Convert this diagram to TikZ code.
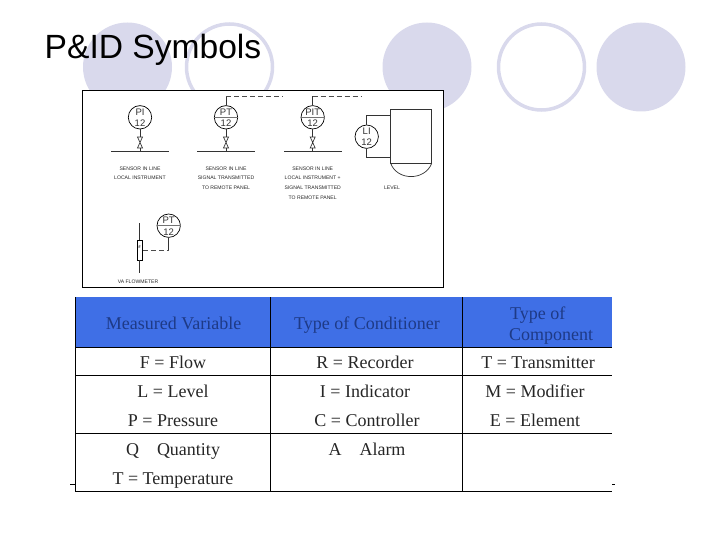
\documentclass[tikz,border=0pt]{standalone}
\usepackage{fontspec}
\setmainfont{Liberation Serif}
\setsansfont{Liberation Sans}
\usetikzlibrary{calc,positioning}
\definecolor{slidelilac}{HTML}{D9D9EC}
\definecolor{headblue}{HTML}{3F6FE6}
\definecolor{headink}{HTML}{1E3A86}
\tikzset{
  instr/.style={draw,circle,minimum size=23.4pt,inner sep=0pt,fill=white,line width=0.7pt},
  tagtext/.style={font=\sffamily\fontsize{9.5}{9.5}\selectfont,text=black!80,inner sep=0pt},
  caption/.style={font=\sffamily\fontsize{5.1}{5.1}\selectfont,text=black!85,inner sep=0pt},
  cell/.style={font=\fontsize{18}{18}\selectfont,text=black!85,inner sep=0pt,text height=14pt,text depth=2pt},
  headcell/.style={font=\fontsize{18}{18}\selectfont,text=headink,inner sep=0pt,text height=14pt,text depth=2pt},
  pipe/.style={line width=0.7pt,black!80},
  signal/.style={line width=0.7pt,black!70,dash pattern=on 5pt off 3pt}
}
\begin{document}
\begin{tikzpicture}[x=1pt,y=-1pt]
  \useasboundingbox (0,0) rectangle (720,540);
  % Slide circles
  \foreach \cx in {127.5,427,641}
    \fill[slidelilac] (\cx,67) circle (44.5);
  \foreach \cx in {229.5,541.5}
    \draw[slidelilac,line width=3.5pt] (\cx,67) circle (43);
  \node[font=\sffamily\fontsize{33.6}{33.6}\selectfont,anchor=base west,inner sep=0pt] (title) at (44.5,59) {P\&ID Symbols};
  % Symbol sheet
  \draw[fill=white,line width=0.9pt] (82.5,90.5) rectangle (443.5,287.5);
  % Inline sensors
  \foreach \x/\name/\top/\lft/\rgt in {140/pi/PI/111/169,226/pt/PT/197.3/255,312.7/pit/PIT/284/341.7}{
    \node[instr] (\name) at (\x,117.3) {};
    \node[tagtext] (\name top) at (\x,112) {\top};
    \node[tagtext] (\name num) at (\x,123.5) {12};
    \coordinate (\name a) at (\x,137);
    \coordinate (\name b) at (\x,148);
    \coordinate (\name c) at (\x,151.7);
    \draw[pipe] (\lft,151.7) -- (\rgt,151.7);
    \draw[pipe] (\name) -- (\name a);
    \draw[pipe] ($(\name a)+(-2.5,0)$) -- ($(\name b)+(2.5,0)$) -- ($(\name b)+(-2.5,0)$) -- ($(\name a)+(2.5,0)$) -- cycle;
    \draw[pipe] (\name b) -- (\name c);
  }
  \draw[line width=1.1pt,black!55] (pt.west) -- (pt.east);
  \draw[line width=1.1pt,black!55] (pit.west) -- (pit.east);
  % Signal lines
  \coordinate (ptup) at (226,96);
  \coordinate (pitup) at (312.7,96);
  \coordinate (ptend) at (283,96);
  \coordinate (pitend) at (361.7,96);
  \draw[pipe] (pt) -- (ptup);
  \draw[pipe] (pit) -- (pitup);
  \draw[signal] (ptup) -- (ptend);
  \draw[signal] (pitup) -- (pitend);
  % Captions
  \node[caption] (capa) at (140,168.3) {SENSOR IN LINE};
  \node[caption] (capb) at (140,178) {LOCAL INSTRUMENT};
  \node[caption] (capc) at (226,168.3) {SENSOR IN LINE};
  \node[caption] (capd) at (226,178) {SIGNAL TRANSMITTED};
  \node[caption] (cape) at (226,188) {TO REMOTE PANEL};
  \node[caption] (capf) at (312.7,168.3) {SENSOR IN LINE};
  \node[caption] (capg) at (312.7,178) {LOCAL INSTRUMENT +};
  \node[caption] (caph) at (312.7,188) {SIGNAL TRANSMITTED};
  \node[caption] (capi) at (312.7,198) {TO REMOTE PANEL};
  % Level
  \draw[pipe] (390.7,109.3) rectangle (431.7,163.3);
  \draw[pipe] (390.7,163.3) .. controls (397,181) and (425,181) .. (431.7,163.3);
  \node[instr] (li) at (366.7,136.7) {};
  \node[tagtext] (lii) at (366.7,131) {LI};
  \node[tagtext] (linum) at (366.7,142.5) {12};
  \coordinate (lia) at (390.7,115);
  \coordinate (lib) at (390.7,157.7);
  \draw[pipe] (li) -- (366.7,115) -- (lia);
  \draw[pipe] (li) -- (366.7,157.7) -- (lib);
  \node[caption] (caplevel) at (392,188) {LEVEL};
  % Flowmeter
  \node[draw,fill=white,line width=0.7pt,minimum width=5.7pt,minimum height=20pt,inner sep=0pt] (va) at (139.8,250) {};
  \node[font=\sffamily\bfseries\fontsize{3.5}{3.5}\selectfont,inner sep=0pt] (vaf) at (139.8,247) {F};
  \coordinate (vatop) at (139.8,223.3);
  \coordinate (vabot) at (139.8,273.3);
  \draw[pipe] (vatop) -- (va);
  \draw[pipe] (va) -- (vabot);
  \node[instr] (fpt) at (168.7,225.7) {};
  \node[tagtext] (fpttop) at (168.7,220.4) {PT};
  \node[tagtext] (fptnum) at (168.7,231.9) {12};
  \draw[line width=1.1pt,black!55] (fpt.west) -- (fpt.east);
  \coordinate (fptdown) at (168.7,250);
  \draw[signal] (va.east) -- (fptdown);
  \draw[pipe] (fptdown) -- (fpt);
  \node[caption] (capva) at (138,282) {VA FLOWMETER};
  % Table
  \fill[headblue] (75,297) rectangle (612,347);
  \draw[line width=0.7pt] (75,297) -- (75,491) (270,297) -- (270,491) (462,297) -- (462,491);
  \foreach \y in {347,375,433,491}
    \draw[line width=0.7pt] (75,\y) -- (612,\y);
  \draw[line width=0.7pt] (70,484.5) -- (75,484.5) (612,484.5) -- (615,484.5);
  \node[headcell] (hvar) at (173.5,323) {Measured Variable};
  \node[headcell] (hcon) at (367,323) {Type of Conditioner};
  \node[headcell,anchor=west] (htype) at (510,313) {Type of};
  \node[headcell,anchor=west] (hcomp) at (509,334) {Component};
  \node[cell] (flow) at (173,362) {F = Flow};
  \node[cell] (level) at (173,391) {L = Level};
  \node[cell] (press) at (173,420) {P = Pressure};
  \node[cell] (quant) at (173,449) {Q\hspace{18pt}Quantity};
  \node[cell] (temp) at (173,478) {T = Temperature};
  \node[cell] (rec) at (365,362) {R = Recorder};
  \node[cell] (ind) at (365,391) {I = Indicator};
  \node[cell] (con) at (367,420) {C = Controller};
  \node[cell] (alarm) at (367,449) {A\hspace{18pt}Alarm};
  \node[cell] (trans) at (538,362) {T = Transmitter};
  \node[cell] (mod) at (535,391) {M = Modifier};
  \node[cell] (elem) at (535,420) {E = Element};
\end{tikzpicture}
\end{document}
